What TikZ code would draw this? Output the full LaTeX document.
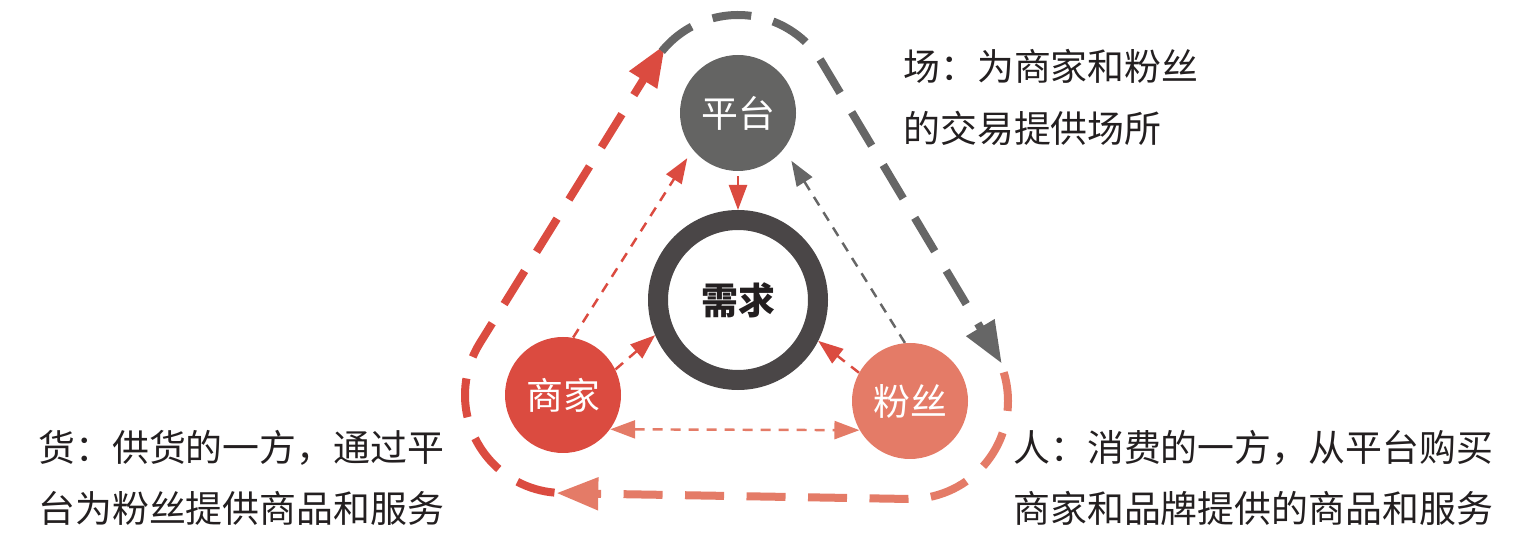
\documentclass[tikz,border=0pt]{standalone}
\usepackage{fontspec}
\setmainfont{Noto Sans CJK SC}
\usepackage{tikz}
\usetikzlibrary{arrows.meta}
\usetikzlibrary{calc}
\definecolor{shopred}{HTML}{DB4B40}
\definecolor{fanpink}{HTML}{E47B67}
\definecolor{platgray}{HTML}{646463}
\definecolor{ringgray}{HTML}{4A4647}
\definecolor{dashgray}{HTML}{666666}
\definecolor{inkgray}{HTML}{231F20}
\tikzset{hub/.style={circle,minimum size=2.32cm,inner sep=0pt,text=white,font=\fontsize{21pt}{25pt}\selectfont}}
\tikzset{core/.style={circle,draw=ringgray,line width=0.4cm,minimum size=3.2cm,inner sep=0pt,text=inkgray,font=\fontsize{21pt}{25pt}\selectfont\bfseries}}
\tikzset{thinlink/.style={line width=1.4pt,dash pattern=on 0.2cm off 0.16cm,-{Triangle[length=0.5cm,width=0.36cm]}}}
\tikzset{bigloop/.style={line width=0.16cm,dash pattern=on 0.78cm off 0.45cm,-{Triangle[length=0.84cm,width=0.62cm]}}}
\tikzset{note/.style={inner sep=0pt,align=left,text=inkgray,font=\fontsize{21pt}{35pt}\selectfont}}

\begin{document}
\begin{tikzpicture}
		\useasboundingbox (0,0) rectangle (30.3,10.88);

		\node[hub,fill=platgray](platform) at (14.76,8.62){平台};
		\node[core](demand) at (14.76,4.88){需求};
		\node[hub,fill=shopred](shop) at (11.26,2.98){商家};
		\node[hub,fill=fanpink](fans) at (18.20,2.86){粉丝};

		\node[note,anchor=west](place) at (18.06,8.93){场：为商家和粉丝\\的交易提供场所};
		\node[note,anchor=west](goods) at (0.76,1.32){货：供货的一方，通过平\\台为粉丝提供商品和服务};
		\node[note,anchor=west](people) at (20.26,1.32){人：消费的一方，从平台购买\\商家和品牌提供的商品和服务};

		\draw[thinlink,shopred,shorten >=0.2cm] (shop.80) -- (platform.219);
		\draw[thinlink,dashgray,shorten >=0.28cm] (fans.95) -- (platform.322);
		\draw[thinlink,shopred,solid,shorten <=0.1cm] (platform.south) -- (demand.north);
		\draw[thinlink,shopred] (shop.26) -- (demand.203);
		\draw[thinlink,shopred] (fans.151) -- (demand.333);
		\draw[thinlink,fanpink,{Triangle[length=0.5cm,width=0.36cm]}-{Triangle[length=0.5cm,width=0.36cm]}] (shop.-36) -- (fans.210);

		% outer cycle
		\draw[bigloop,shopred] ($(shop)+(265:1.96)$) arc[start angle=265,end angle=148.2,radius=1.96] -- ($(platform)+(148.2:1.96)+(58.2:0.4)$);
		\draw[bigloop,dashgray] ($(platform)+(141:1.96)$) arc[start angle=141,end angle=30.85,radius=1.96] -- ($(fans)+(30.85:1.96)+(-59.15:0.3)$);
		\draw[bigloop,fanpink] ($(fans)+(17:1.96)$) arc[start angle=17,end angle=-91,radius=1.96] -- ($(shop)+(-91:1.96)+(181:0.1)$);
\end{tikzpicture}
\end{document}
